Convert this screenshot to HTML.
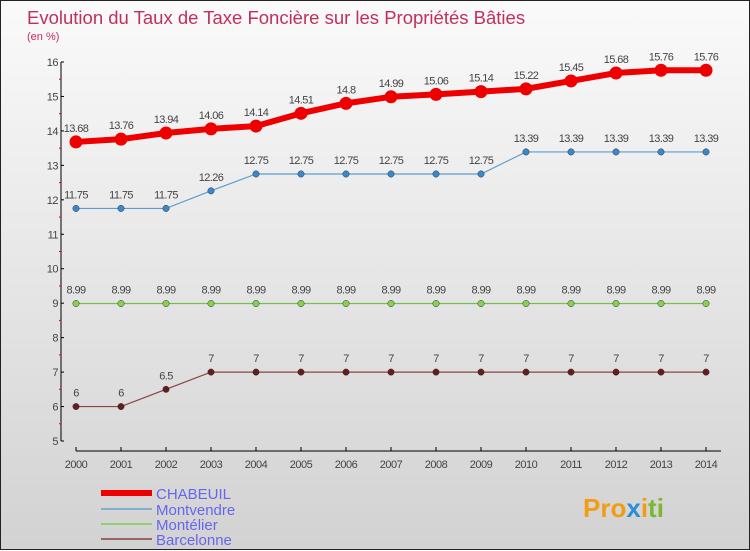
<!DOCTYPE html>
<html><head><meta charset="utf-8"><style>
body{margin:0}
#c{width:750px;height:550px;position:relative;background:linear-gradient(#fafafa,#d2d2d2);box-sizing:border-box;border:1px solid #222;font-family:"Liberation Sans",sans-serif}
</style></head><body>
<div id="c">
<svg id="s" width="750" height="550" style="position:absolute;left:0;top:0">
<text x="26" y="23" font-size="18.5" fill="#c0305a">Evolution du Taux de Taxe Foncière sur les Propriétés Bâties</text>
<text x="26" y="39" font-size="11" fill="#c0305a">(en %)</text>
<g id="axes"></g><g id="series"></g>
<g>
<line x1="100" y1="492" x2="151" y2="492" stroke="#e00" stroke-width="6"/>
<text x="155" y="498" font-size="15" fill="#6666ee">CHABEUIL</text>
<line x1="100" y1="508" x2="151" y2="508" stroke="#80b0d0" stroke-width="2"/>
<text x="155" y="514" font-size="15" fill="#6666ee">Montvendre</text>
<line x1="100" y1="523" x2="151" y2="523" stroke="#90d070" stroke-width="2"/>
<text x="155" y="529" font-size="15" fill="#6666ee">Montélier</text>
<line x1="100" y1="538" x2="151" y2="538" stroke="#996666" stroke-width="2"/>
<text x="155" y="544" font-size="15" fill="#6666ee">Barcelonne</text>
</g>
<text x="582" y="516" font-size="26" font-weight="bold" fill="#f39c12">Pro<tspan fill="#2a8fd8">x</tspan>i<tspan fill="#7cb82f">ti</tspan></text>
</svg>
</div>
<script>
const years=[2000,2001,2002,2003,2004,2005,2006,2007,2008,2009,2010,2011,2012,2013,2014];
const chabeuil=[13.68,13.76,13.94,14.06,14.14,14.51,14.8,14.99,15.06,15.14,15.22,15.45,15.68,15.76,15.76];
const montvendre=[11.75,11.75,11.75,12.26,12.75,12.75,12.75,12.75,12.75,12.75,13.39,13.39,13.39,13.39,13.39];
const montelier=[8.99,8.99,8.99,8.99,8.99,8.99,8.99,8.99,8.99,8.99,8.99,8.99,8.99,8.99,8.99];
const barcelonne=[6,6,6.5,7,7,7,7,7,7,7,7,7,7,7,7];
const yTicks=[5,6,7,8,9,10,11,12,13,14,15,16];
const NS="http://www.w3.org/2000/svg";
const X=i=>75+i*45, Y=v=>440-(v-5)*(379/11);
function mk(t,a,p){const e=document.createElementNS(NS,t);for(const k in a)e.setAttribute(k,a[k]);p.appendChild(e);return e;}
const ax=document.getElementById('axes'), sg=document.getElementById('series');
let l=mk('line',{x1:60,y1:Y(16),x2:60,y2:440,stroke:'#000'},ax);


l=mk('line',{x1:75,y1:450,x2:720,y2:450,stroke:'#000'},ax);


yTicks.forEach(v=>{mk('line',{x1:60,y1:Y(v),x2:63,y2:Y(v),stroke:'#000'},ax);
 if(v<16)mk('line',{x1:58,y1:Y(v+0.5),x2:60,y2:Y(v+0.5),stroke:'#e00'},ax);
 const t=mk('text',{x:57,y:Y(v)+4,'font-size':11,fill:'#444','text-anchor':'end','letter-spacing':'-0.5'},ax);t.textContent=v;
 
 });
years.forEach((y,i)=>{mk('line',{x1:X(i),y1:446,x2:X(i),y2:450,stroke:'#000'},ax);
 const t=mk('text',{x:X(i),y:467,'font-size':11,fill:'#444','text-anchor':'middle','letter-spacing':'-0.5'},ax);t.textContent=y;
 
 });
function series(d,name,col,w,r,dot){
 const p=mk('polyline',{points:d.map((v,i)=>X(i)+','+Y(v)).join(' '),fill:'none',stroke:col,'stroke-width':w},sg);
 
 
 d.forEach((v,i)=>{const c=mk('circle',{cx:X(i),cy:Y(v),r:r,fill:dot,stroke:w>3?col:'#333','stroke-width':w>3?0:0.5},sg);
  
  
  const t=mk('text',{x:X(i),y:Y(v)-10,'font-size':11,fill:'#444','text-anchor':'middle','letter-spacing':'-0.6'},sg);t.textContent=v;
  
  });
}
series(barcelonne,'barcelonne','#884444',1.2,3.2,'#661c1c');
series(montelier,'montelier','#77c050',1.2,3.2,'#88d050');
series(montvendre,'montvendre','#5a9ed0',1.2,3.2,'#3a88cc');
series(chabeuil,'chabeuil','#ee0000',6,6.5,'#ee0000');
</script>
</body></html>
